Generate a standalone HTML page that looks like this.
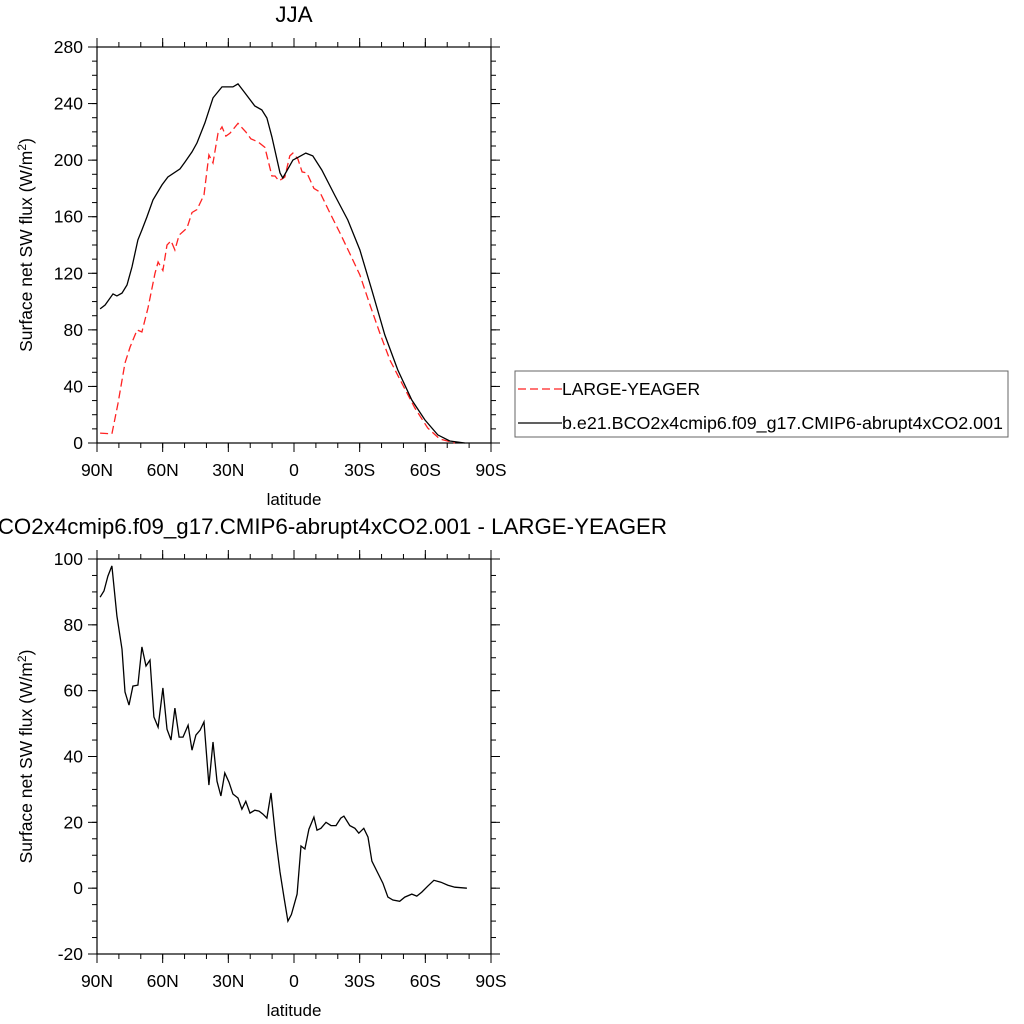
<!DOCTYPE html>
<html><head><meta charset="utf-8"><style>
body{margin:0;background:#fff}
svg{display:block;font-family:"Liberation Sans",sans-serif}
</style></head><body>
<svg id="s" width="1024" height="1024" viewBox="0 0 1024 1024"></svg>
<script>
// Top panel data
const latTopBlack=[88.6,86.3,82.7,80.9,78.6,76.3,74,71.3,69.5,67.2,64.4,60.3,57.6,52.1,49.8,46.6,44.3,40.7,37,32.9,27.9,25.6,22.4,17.9,14.7,12.4,10.1,6.4,5.1,0.5,-2.2,-5.4,-8.6,-12.7,-18.7,-24.6,-30.1,-35.6,-41.5,-47.4,-53.8,-59.8,-65.7,-71.2,-78];
const valTopBlack=[94.8,97.6,105.4,104,106,111.7,124.5,143.6,150.6,159.8,171.9,182.5,188.1,193.8,198.7,205.8,212.2,226.3,244,251.8,251.8,253.9,247.5,238.3,235.5,229.8,216.4,191,187.4,200,202.3,205,203,193,175,157.7,136.5,108,76.4,51.6,30.4,16.3,5.7,1.4,0];
const latTopRed=[88.6,83.2,80.4,77.2,74.9,71.7,69.5,66.7,63.5,62.1,59.9,58,56.2,54.4,52.5,48.9,46.6,44.3,41.1,38.9,37,34.7,32.9,31.1,29.3,25.6,22,19.7,16.5,13.3,10.1,8.7,6.9,4.2,1.9,0.5,-1.8,-3.7,-5.9,-9.1,-11.8,-16.4,-21,-25.5,-30.1,-34.7,-39.2,-43.8,-49.7,-55.2,-61.1,-66.6,-73.5];
const valTopRed=[7,6.4,28,56.6,67.9,80,78.5,95.5,120,128,122,140,143,136.5,147,152,163,165,175.4,203.7,198,219,223.5,217,219,226,220,215,213,209,188.8,188.8,185.3,188,203,205,200.8,191.7,191,180,177.5,162.7,148.5,134,118.8,97.6,77.8,58.7,41,24.8,10.6,2.8,0];
// Bottom panel data (difference)
const latDiff=[88.6,86.8,85,83.2,80.9,78.6,77.2,75.4,73.6,71.3,69.5,67.6,65.8,64,62.1,59.9,58,56.2,54.4,52.5,50.7,48.4,46.6,44.8,42.9,41.1,38.9,37,35.2,33.4,31.6,29.7,27.9,25.6,23.8,22,20.1,17.9,16,14.2,12.4,10.5,8.3,6.4,4.5,2.8,1.2,-1.4,-3.2,-5,-6.8,-9.1,-10.5,-12.3,-14.6,-16.9,-19.2,-21.4,-22.8,-25.5,-27.8,-29.6,-31.9,-33.8,-35.6,-38.3,-40.6,-42.9,-45.2,-48.3,-50.6,-53.8,-56.1,-58.4,-61.1,-63.9,-67.1,-70.3,-73.5,-79];
const valDiff=[88.4,90.3,94.8,97.9,82.7,72.6,59.6,55.6,61.4,61.7,73.3,67.5,69.3,52,48.9,60.8,48.3,45,54.7,45.9,45.9,49.5,41.9,46.5,48,50.5,31.3,44.4,32.5,28,35,32.2,28.6,27.4,24,26.4,22.8,23.7,23.4,22.5,21.3,28.9,14.9,4.9,-3,-10,-8,-1.8,12.8,11.9,17.9,21.6,17.6,18.2,20,19,19,21.3,21.9,19,18.2,16.7,18.2,15.5,8.2,4.6,1.5,-2.7,-3.6,-4,-2.7,-1.8,-2.4,-1.2,0.6,2.4,1.8,0.9,0.3,0];
const xTicks=[90,60,30,0,-30,-60,-90];
const xTickLabels=["90N","60N","30N","0","30S","60S","90S"];
const yTicksTop=[0,40,80,120,160,200,240,280];
const yTicksBot=[-20,0,20,40,60,80,100];

const NS="http://www.w3.org/2000/svg";
const svg=document.getElementById('s');
function mk(tag,attrs,parent){const e=document.createElementNS(NS,tag);for(const k in attrs)e.setAttribute(k,attrs[k]);(parent||svg).appendChild(e);return e;}
const X0=97,X1=491;
function xs(lat){return X0+(90-lat)/180*(X1-X0);}

function panel(name,top,bot,ymin,ymax,yMajor,yMinorStep,title){
  const g=mk('g',{});
  
  
  const ys=v=>bot-(v-ymin)/(ymax-ymin)*(bot-top);
  for(let v=ymin;v<=ymax+1e-9;v+=yMinorStep){
    const y=ys(v);
    mk('line',{x1:92,x2:X0,y1:y,y2:y,stroke:'#000','stroke-width':1},g);
    mk('line',{x1:X1,x2:X1+5,y1:y,y2:y,stroke:'#000','stroke-width':1},g);
  }
  for(let l=90;l>=-90;l-=10){
    const x=xs(l);
    mk('line',{x1:x,x2:x,y1:bot,y2:bot+5,stroke:'#000','stroke-width':1},g);
    mk('line',{x1:x,x2:x,y1:top,y2:top-5,stroke:'#000','stroke-width':1},g);
  }
  yMajor.forEach(v=>{
    const y=ys(v);
    mk('line',{x1:88,x2:X0,y1:y,y2:y,stroke:'#000','stroke-width':1},g);
    mk('line',{x1:X1,x2:X1+9,y1:y,y2:y,stroke:'#000','stroke-width':1},g);
    const t=mk('text',{x:83,y:y+6,'text-anchor':'end','font-size':17.5},g);
    
    
    t.textContent=v;
  });
  xTicks.forEach((l,i)=>{
    const x=xs(l);
    mk('line',{x1:x,x2:x,y1:bot,y2:bot+9,stroke:'#000','stroke-width':1},g);
    mk('line',{x1:x,x2:x,y1:top,y2:top-9,stroke:'#000','stroke-width':1},g);
    const t=mk('text',{x:x,y:bot+33,'text-anchor':'middle','font-size':17.5},g);
    
    
    t.textContent=xTickLabels[i];
  });
  const r=mk('rect',{x:X0,y:top,width:X1-X0,height:bot-top,fill:'none',stroke:'#000','stroke-width':1.2},g);
  
  
  const xt=mk('text',{x:294,y:bot+62,'text-anchor':'middle','font-size':17},g);
  
  
  xt.textContent='latitude';
  const cy=(top+bot)/2;
  const yt=mk('text',{x:0,y:0,'text-anchor':'middle','font-size':17.5,transform:`translate(32,${cy}) rotate(-90)`},g);
  
  
  yt.innerHTML='Surface net SW flux (W/m<tspan dy="-6" font-size="12">2</tspan><tspan dy="6">)</tspan>';
  const tt=mk('text',{x:294,y:top-25,'text-anchor':'middle','font-size':22.3},g);
  
  
  tt.textContent=title;
  return {g,ys};
}
function line(g,ys,lats,vals,stroke,dash,name){
  const d=lats.map((l,i)=>(i?'L':'M')+xs(l).toFixed(1)+','+ys(vals[i]).toFixed(1)).join('');
  const p=mk('path',{d,fill:'none',stroke,'stroke-width':1.3,'stroke-dasharray':dash||'none'},g);
  
  
}
const P1=panel('top-panel',47,443,0,280,yTicksTop,10,'JJA');
line(P1.g,P1.ys,latTopRed,valTopRed,'#f22','8,4','series-large-yeager');
line(P1.g,P1.ys,latTopBlack,valTopBlack,'#000',null,'series-abrupt4xco2');
const P2=panel('bottom-panel',559,954,-20,100,yTicksBot,5,'b.e21.BCO2x4cmip6.f09_g17.CMIP6-abrupt4xCO2.001 - LARGE-YEAGER');
line(P2.g,P2.ys,latDiff,valDiff,'#000',null,'series-difference');

const lg=mk('g',{});


mk('rect',{x:515,y:371,width:493,height:66,fill:'#fff',stroke:'#666','stroke-width':1},lg);
mk('line',{x1:518,x2:562,y1:389,y2:389,stroke:'#f22','stroke-width':1.3,'stroke-dasharray':'8,4'},lg);
mk('line',{x1:518,x2:562,y1:423,y2:423,stroke:'#000','stroke-width':1.3},lg);
const l1=mk('text',{x:562,y:395,'font-size':17.5},lg);


l1.textContent='LARGE-YEAGER';
const l2=mk('text',{x:562,y:429,'font-size':17.5,textLength:441,lengthAdjust:'spacingAndGlyphs'},lg);


l2.textContent='b.e21.BCO2x4cmip6.f09_g17.CMIP6-abrupt4xCO2.001';
</script>
</body></html>
